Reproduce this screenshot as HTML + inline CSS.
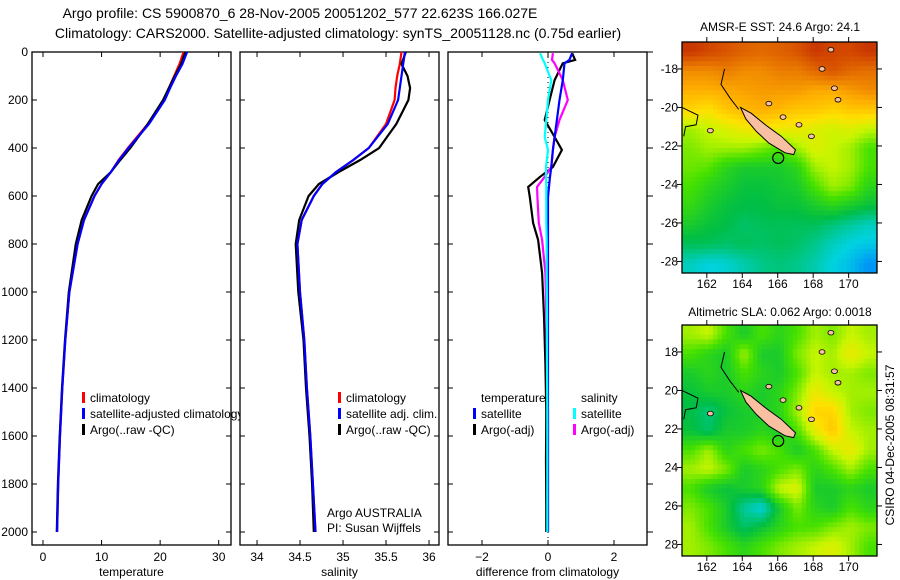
<!DOCTYPE html>
<html><head><meta charset="utf-8"><style>
body{margin:0;background:#fff}
svg{display:block;font-family:"Liberation Sans",sans-serif;font-size:12px}
</style></head><body>
<svg id="s" width="900" height="580" xmlns="http://www.w3.org/2000/svg">
<text x="300" y="18" text-anchor="middle" font-size="14">Argo profile: CS 5900870_6 28-Nov-2005 20051202_577 22.623S 166.027E</text>
<text x="338" y="38" text-anchor="middle" font-size="14">Climatology: CARS2000. Satellite-adjusted climatology: synTS_20051128.nc (0.75d earlier)</text>
<text x="780" y="31" text-anchor="middle">AMSR-E SST: 24.6 Argo: 24.1</text>
<text x="780" y="316" text-anchor="middle">Altimetric SLA: 0.062 Argo: 0.0018</text>
<text transform="translate(894,445) rotate(-90)" text-anchor="middle">CSIRO 04-Dec-2005 08:31:57</text>
<g id="g"></g>
</svg>
<script>
// ---- profile data ----
const depths = [0,50,100,150,200,300,400,450,500,550,600,700,800,1000,1200,1400,1600,1800,2000];
const tempClim = [24.0,23.3,22.4,21.5,20.6,17.9,14.5,12.9,11.6,10.0,8.8,7.0,5.9,4.5,3.8,3.3,2.9,2.6,2.4];
const tempSat  = [24.6,23.8,22.7,21.7,20.8,18.1,14.6,13.0,11.6,10.0,8.8,7.0,5.9,4.5,3.8,3.3,2.9,2.6,2.4];
const tempArgo = [24.3,23.6,22.5,21.5,20.5,17.9,14.9,13.2,11.6,9.4,8.3,6.6,5.6,4.4,3.75,3.25,2.85,2.55,2.35];
const salClim = [35.68,35.66,35.63,35.61,35.6,35.5,35.3,35.12,34.92,34.76,34.66,34.52,34.47,34.5,34.55,34.58,34.62,34.65,34.68];
const salSat  = [35.72,35.7,35.68,35.66,35.64,35.52,35.3,35.12,34.92,34.76,34.66,34.52,34.47,34.5,34.55,34.58,34.62,34.65,34.68];
const salArgo = [35.73,35.68,35.75,35.78,35.76,35.62,35.42,35.2,34.95,34.72,34.6,34.49,34.45,34.48,34.54,34.57,34.61,34.64,34.66];
// ---- difference data ----
const dDepth = [5,33,47,117,200,283,354,408,479,520,562,604,712,783,921,1100,1300,1500,1700,1900,2000];
const dTempSat  = [0.73,0.65,0.5,0.45,0.35,0.27,0.2,0.15,0.1,0.06,0.03,0.0,0.0,0.0,0.0,0.0,0.0,0.0,0.0,0.0,0.0];
const dTempArgo = [0.73,0.82,0.45,0.2,0.05,-0.1,0.2,0.42,0.15,-0.24,-0.6,-0.55,-0.45,-0.3,-0.18,-0.12,-0.08,-0.05,-0.06,-0.05,-0.05];
const dSalSat   = [-0.24,-0.15,-0.1,0.1,0.0,-0.05,-0.1,0.0,-0.06,-0.06,-0.05,-0.05,-0.05,-0.04,-0.04,-0.03,-0.03,-0.02,-0.02,-0.02,-0.02];
const dSalArgo  = [0.15,0.12,0.2,0.45,0.6,0.35,0.2,0.15,0.1,-0.1,-0.33,-0.32,-0.28,-0.18,-0.08,-0.05,-0.03,0.0,0.0,0.0,0.0];
// ---- map grids (1 degree cells, rows north->south) ----
const sstGrid = [
[0.92,0.9,0.88,0.86,0.85,0.86,0.88,0.92,0.9,0.9,0.92],
[0.8,0.8,0.82,0.8,0.8,0.82,0.82,0.85,0.88,0.85,0.84],
[0.75,0.75,0.76,0.77,0.78,0.78,0.78,0.76,0.76,0.78,0.8],
[0.7,0.68,0.72,0.74,0.75,0.74,0.72,0.72,0.7,0.72,0.72],
[0.6,0.62,0.64,0.66,0.68,0.66,0.66,0.64,0.63,0.64,0.62],
[0.58,0.6,0.6,0.6,0.58,0.55,0.6,0.64,0.62,0.6,0.55],
[0.57,0.56,0.52,0.5,0.5,0.5,0.52,0.6,0.62,0.6,0.55],
[0.55,0.52,0.5,0.48,0.48,0.49,0.5,0.55,0.6,0.58,0.52],
[0.53,0.5,0.48,0.47,0.47,0.48,0.48,0.5,0.52,0.5,0.48],
[0.5,0.48,0.47,0.45,0.46,0.46,0.46,0.46,0.44,0.42,0.4],
[0.46,0.46,0.45,0.46,0.45,0.46,0.45,0.43,0.4,0.38,0.37],
[0.4,0.38,0.39,0.41,0.43,0.44,0.43,0.41,0.38,0.36,0.32]];
const slaGrid = [
[0.6,0.62,0.55,0.5,0.55,0.52,0.55,0.6,0.58,0.62,0.6],
[0.55,0.52,0.5,0.6,0.5,0.5,0.58,0.62,0.6,0.66,0.62],
[0.5,0.52,0.5,0.55,0.52,0.5,0.55,0.62,0.6,0.6,0.58],
[0.48,0.5,0.5,0.52,0.5,0.52,0.58,0.66,0.62,0.6,0.6],
[0.47,0.44,0.48,0.5,0.5,0.52,0.6,0.7,0.7,0.6,0.58],
[0.48,0.45,0.5,0.5,0.52,0.5,0.55,0.65,0.72,0.62,0.6],
[0.55,0.6,0.52,0.55,0.58,0.55,0.5,0.55,0.62,0.66,0.6],
[0.6,0.62,0.58,0.5,0.52,0.55,0.58,0.52,0.55,0.6,0.55],
[0.55,0.5,0.48,0.5,0.52,0.62,0.64,0.5,0.5,0.52,0.5],
[0.58,0.55,0.5,0.42,0.38,0.5,0.58,0.52,0.5,0.55,0.52],
[0.6,0.55,0.5,0.45,0.48,0.52,0.55,0.55,0.58,0.6,0.58],
[0.6,0.58,0.55,0.52,0.55,0.58,0.6,0.62,0.64,0.6,0.55]];
const islandLonLat = [[163.9,-20.0],[164.5,-20.3],[165.3,-20.9],[166.2,-21.5],[167.0,-22.2],[166.9,-22.45],[166.4,-22.35],[165.5,-21.85],[164.8,-21.25],[164.2,-20.6]];
const argoPos = [166.027,-22.623];

const NS='http://www.w3.org/2000/svg', G=document.getElementById('g');
function mk(t,a,p){const e=document.createElementNS(NS,t);for(const k in a)e.setAttribute(k,a[k]);(p||G).appendChild(e);return e;}
function txt(x,y,s,anc,p){const e=mk('text',{x:x,y:y,'text-anchor':anc||'middle'},p);e.textContent=s;return e;}
const yTop=52, yBot=545, pxPerM=0.24;
const yD=d=>yTop+d*pxPerM;

function panel(name,x0,x1,vmin,vmax,ticks,tickLbl,xlabel,yLabels,rightOut){
  const g=mk('g',{});
  
  
  const sx=v=>x0+(v-vmin)/(vmax-vmin)*(x1-x0);
  const r=mk('rect',{x:x0,y:yTop,width:x1-x0,height:yBot-yTop,fill:'#fff',stroke:'#000','stroke-width':1.3},g);
  
  
  ticks.forEach((t,i)=>{const x=sx(t);
    mk('line',{x1:x,x2:x,y1:yBot,y2:yBot-5,stroke:'#000'},g);
    mk('line',{x1:x,x2:x,y1:yTop,y2:yTop+5,stroke:'#000'},g);
    const l=txt(x,561,tickLbl[i],'middle',g);
    
    
  });
  for(let d=0;d<=2000;d+=200){const y=yD(d);
    mk('line',{x1:x0,x2:x0+5,y1:y,y2:y,stroke:'#000'},g);
    if(rightOut) mk('line',{x1:x1,x2:x1+6,y1:y,y2:y,stroke:'#000'},g);
    else mk('line',{x1:x1,x2:x1-5,y1:y,y2:y,stroke:'#000'},g);
    if(yLabels){const l=txt(28,y+4,String(d),'end',g);
      
      }
  }
  const xl=txt((x0+x1)/2,576,xlabel,'middle',g);
  
  
  return {g,sx};
}
function line(p,vals,dep,color,name){
  const pts=vals.map((v,i)=>p.sx(v).toFixed(1)+','+yD(dep[i]).toFixed(1)).join(' ');
  const e=mk('polyline',{points:pts,fill:'none',stroke:color,'stroke-width':2.2},p.g);
  
  
}
function legend(p,x,y,items){
  items.forEach((it,i)=>{
    if(it[1]) mk('rect',{x:x,y:y+i*16-10,width:3,height:11,fill:it[1]},p.g);
    const t=txt(x+8,y+i*16,it[0],'start',p.g);
    
    
  });
}
const p1=panel('temperature-panel',32,231,-1.88,32.1,[0,10,20,30],['0','10','20','30'],'temperature',true,false);
line(p1,tempClim,depths,'#f00','temp-climatology-line');
line(p1,tempArgo,depths,'#000','temp-argo-line');
line(p1,tempSat,depths,'#00f','temp-satellite-line');
legend(p1,82,402,[['climatology','#f00'],['satellite-adjusted climatology','#00f'],['Argo(..raw -QC)','#000']]);
const p2=panel('salinity-panel',240,439,33.802,36.116,[34,34.5,35,35.5,36],['34','34.5','35','35.5','36'],'salinity',false,false);
line(p2,salClim,depths,'#f00','sal-climatology-line');
line(p2,salArgo,depths,'#000','sal-argo-line');
line(p2,salSat,depths,'#00f','sal-satellite-line');
legend(p2,338,402,[['climatology','#f00'],['satellite adj. clim.','#00f'],['Argo(..raw -QC)','#000']]);
txt(327,517,'Argo AUSTRALIA','start',p2.g);
txt(327,532,'PI: Susan Wijffels','start',p2.g);
const p3=panel('difference-panel',448,647,-3.03,3.0,[-2,0,2],['−2','0','2'],'difference from climatology',false,true);
mk('line',{x1:p3.sx(0),x2:p3.sx(0),y1:yTop,y2:yBot,stroke:'#000','stroke-dasharray':'1,4'},p3.g);
line(p3,dTempArgo,dDepth,'#000','diff-temp-argo-line');
line(p3,dSalArgo,dDepth,'#f0f','diff-sal-argo-line');
line(p3,dTempSat,dDepth,'#00f','diff-temp-sat-line');
line(p3,dSalSat,dDepth,'#0ff','diff-sal-sat-line');
legend(p3,473,402,[['temperature',null],['satellite','#00f'],['Argo(-adj)','#000']]);
legend(p3,573,402,[['salinity',null],['satellite','#0ff'],['Argo(-adj)','#f0f']]);

const stops=[[0.3,[0,128,255]],[0.38,[0,210,224]],[0.47,[0,190,70]],[0.55,[70,225,0]],[0.62,[200,245,0]],[0.68,[255,225,0]],[0.75,[255,176,0]],[0.82,[235,125,0]],[0.9,[210,70,0]],[0.97,[176,16,0]]];
function col(v){if(v<=stops[0][0])return 'rgb('+stops[0][1]+')';
  for(let i=1;i<stops.length;i++){if(v<=stops[i][0]){const a=stops[i-1],b=stops[i],f=(v-a[0])/(b[0]-a[0]);
    return 'rgb('+a[1].map((c,k)=>Math.round(c+(b[1][k]-c)*f)).join(',')+')';}}
  return 'rgb('+stops[stops.length-1][1]+')';}
function sample(grid,fr,fc){
  const R=grid.length,C=grid[0].length;
  let r=Math.min(Math.max(fr-0.5,0),R-1), c=Math.min(Math.max(fc-0.5,0),C-1);
  const r0=Math.floor(r),c0=Math.floor(c),r1=Math.min(r0+1,R-1),c1=Math.min(c0+1,C-1),a=r-r0,b=c-c0;
  return grid[r0][c0]*(1-a)*(1-b)+grid[r0][c1]*(1-a)*b+grid[r1][c0]*a*(1-b)+grid[r1][c1]*a*b;
}
function map(name,top,grid,neg){
  const x0=682,x1=877,y1=top+231,lon0=160.6,lon1=171.6,lat0=-16.6,lat1=-28.6;
  const sx=l=>x0+(l-lon0)/(lon1-lon0)*(x1-x0), sy=l=>top+(l-lat0)/(lat1-lat0)*(y1-top);
  const g=mk('g',{});
  
  
  const S=4, R=grid.length*S, C=grid[0].length*S, cw=(x1-x0)/C, ch=(y1-top)/R;
  for(let r=0;r<R;r++)for(let c=0;c<C;c++){
    const v=sample(grid,(r+0.5)/S,(c+0.5)/S);
    mk('rect',{x:(x0+c*cw).toFixed(2),y:(top+r*ch).toFixed(2),width:(cw+0.5).toFixed(2),height:(ch+0.5).toFixed(2),fill:col(v)},g);
  }
  const isl=mk('polygon',{points:islandLonLat.map(p=>sx(p[0])+','+sy(p[1])).join(' '),fill:'#f8c0a0',stroke:'#000','stroke-width':1},g);
  
  
  mk('polyline',{points:[[163.0,-18.0],[162.8,-18.8],[163.3,-19.5],[163.8,-20.1]].map(p=>sx(p[0])+','+sy(p[1])).join(' '),fill:'none',stroke:'#000'},g);
  mk('polyline',{points:[[160.6,-20.0],[161.5,-20.4],[161.4,-20.9],[160.8,-21.0],[160.7,-21.5]].map(p=>sx(p[0])+','+sy(p[1])).join(' '),fill:'none',stroke:'#000'},g);
  [[162.2,-21.2],[165.5,-19.8],[166.3,-20.5],[167.2,-20.9],[167.9,-21.5],[169.2,-19.0],[169.4,-19.6],[168.5,-18.0],[169.0,-17.0]].forEach(p=>
    mk('ellipse',{cx:sx(p[0]),cy:sy(p[1]),rx:3,ry:2.3,fill:'#f8c0a0',stroke:'#000','stroke-width':0.8},g));
  const c=mk('circle',{cx:sx(argoPos[0]),cy:sy(argoPos[1]),r:5.5,fill:'none',stroke:'#000','stroke-width':1.2},g);
  
  
  mk('rect',{x:x0,y:top,width:x1-x0,height:y1-top,fill:'none',stroke:'#000','stroke-width':1.3},g);
  for(let la=18;la<=28;la+=2){const y=sy(-la);
    mk('line',{x1:x0-5,x2:x0,y1:y,y2:y,stroke:'#000'},g);
    mk('line',{x1:x1,x2:x1+5,y1:y,y2:y,stroke:'#000'},g);
    txt(x0-4,y+4,(neg?'-':'')+la,'end',g);}
  for(let lo=162;lo<=170;lo+=2){const x=sx(lo);
    mk('line',{x1:x,x2:x,y1:top-5,y2:top,stroke:'#000'},g);
    mk('line',{x1:x,x2:x,y1:y1,y2:y1+5,stroke:'#000'},g);
    txt(x,y1+15,String(lo),'middle',g);}
}
map('sst-map',42,sstGrid,true);
map('sla-map',325,slaGrid,false);
</script>
</body></html>
